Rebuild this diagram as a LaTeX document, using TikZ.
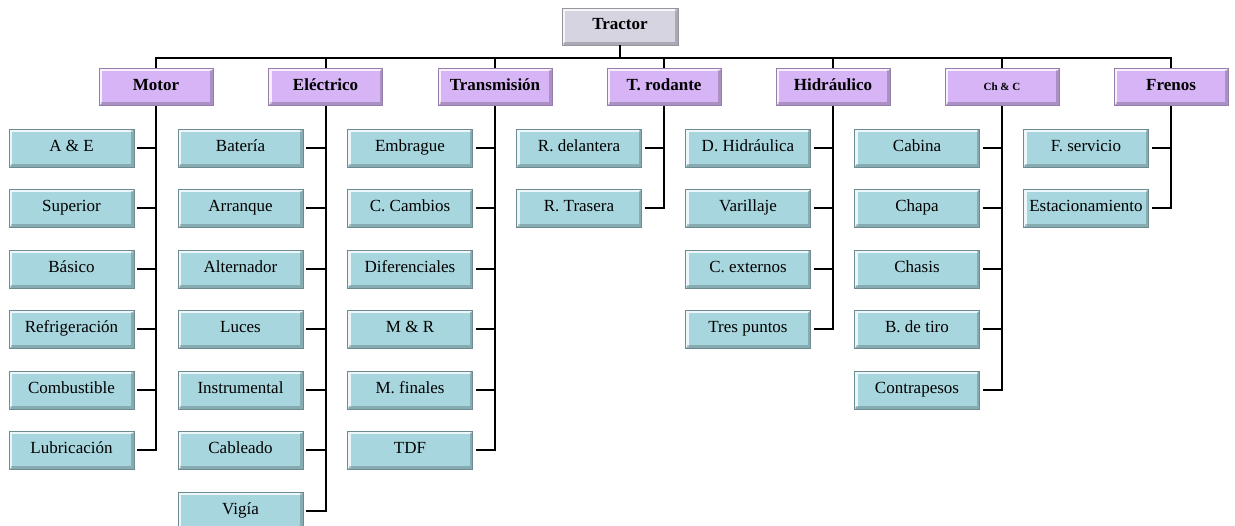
\documentclass[tikz,border=0pt]{standalone}
\usepackage{xcolor}
\usepackage{fontspec}
\setmainfont{Liberation Serif}
\usepackage{tikz}
\usetikzlibrary{positioning}
\definecolor{rootgray}{RGB}{214, 212, 224}
\definecolor{groupviolet}{RGB}{214, 180, 246}
\definecolor{leafcyan}{RGB}{168, 214, 222}

\tikzset{
  bevel/.style={path picture={
    \draw[white, line width=3pt, opacity=.8]
      ([shift={(1.5pt,1.5pt)}]path picture bounding box.south west) |- ([shift={(-1.5pt,-1.5pt)}]path picture bounding box.north east);
    \draw[black, line width=3pt, opacity=.2]
      ([shift={(1.5pt,1.5pt)}]path picture bounding box.south west) -| ([shift={(-1.5pt,-1.5pt)}]path picture bounding box.north east);
  }},
  rootbox/.style={rectangle, bevel, fill=rootgray, draw=rootgray!70!black, line width=.5pt, minimum width=116pt, minimum height=37pt, inner sep=0pt, text height=12pt, text depth=5pt, font=\fontsize{17}{20}\selectfont\bfseries},
  groupbox/.style={rectangle, bevel, fill=groupviolet, draw=groupviolet!70!black, line width=.5pt, minimum width=114pt, minimum height=37pt, inner sep=0pt, text height=12pt, text depth=5pt, font=\fontsize{17}{20}\selectfont\bfseries},
  leafbox/.style={rectangle, bevel, fill=leafcyan, draw=leafcyan!65!black, line width=.5pt, minimum width=125pt, minimum height=38pt, inner sep=0pt, text height=12pt, text depth=5pt, font=\fontsize{17}{20}\selectfont},
  link/.style={draw, line width=2pt},
  branch/.style={draw, line width=2pt, shorten <=3pt}
}

\begin{document}
\begin{tikzpicture}[x=1pt, y=-1pt, node distance=22pt]
  \useasboundingbox (0,0) rectangle (1235,526);

  % top
  \node[rootbox] (tractor) at (620,26.5) {Tractor};

  % groups
  \node[groupbox] (motor) at (156,87) {Motor};
  \node[groupbox] (electrico) at (325.5,87) {Eléctrico};
  \node[groupbox] (transmision) at (495,87) {Transmisión};
  \node[groupbox] (rodante) at (664,87) {T. rodante};
  \node[groupbox] (hidraulico) at (833,87) {Hidráulico};
  \node[groupbox, font=\fontsize{11}{13}\selectfont\bfseries] (chc) at (1002,87) {Ch \& C};
  \node[groupbox] (frenos) at (1171,87) {Frenos};

  \foreach \g in {motor, electrico, transmision, rodante, hidraulico, chc, frenos}
    \draw[link] (tractor.south) -- ++(0,13) -| (\g.north);

  % Motor
  \node[leafbox] (ae) at (71.5,148) {A \& E};
  \node[leafbox, below=of ae] (superior) {Superior};
  \node[leafbox, below=of superior] (basico) {Básico};
  \node[leafbox, below=of basico] (refrigeracion) {Refrigeración};
  \node[leafbox, below=of refrigeracion] (combustible) {Combustible};
  \node[leafbox, below=of combustible] (lubricacion) {Lubricación};

  % Electrico
  \node[leafbox] (bateria) at (240.5,148) {Batería};
  \node[leafbox, below=of bateria] (arranque) {Arranque};
  \node[leafbox, below=of arranque] (alternador) {Alternador};
  \node[leafbox, below=of alternador] (luces) {Luces};
  \node[leafbox, below=of luces] (instrumental) {Instrumental};
  \node[leafbox, below=of instrumental] (cableado) {Cableado};
  \node[leafbox, below=of cableado] (vigia) {Vigía};

  % Transmision
  \node[leafbox] (embrague) at (410,148) {Embrague};
  \node[leafbox, below=of embrague] (cambios) {C. Cambios};
  \node[leafbox, below=of cambios] (diferenciales) {Diferenciales};
  \node[leafbox, below=of diferenciales] (mr) {M \& R};
  \node[leafbox, below=of mr] (finales) {M. finales};
  \node[leafbox, below=of finales] (tdf) {TDF};

  % T. rodante
  \node[leafbox] (delantera) at (579,148) {R. delantera};
  \node[leafbox, below=of delantera] (trasera) {R. Trasera};

  % Hidraulico
  \node[leafbox] (dhidraulica) at (748,148) {D. Hidráulica};
  \node[leafbox, below=of dhidraulica] (varillaje) {Varillaje};
  \node[leafbox, below=of varillaje] (externos) {C. externos};
  \node[leafbox, below=of externos] (trespuntos) {Tres puntos};

  % Ch & C
  \node[leafbox] (cabina) at (917,148) {Cabina};
  \node[leafbox, below=of cabina] (chapa) {Chapa};
  \node[leafbox, below=of chapa] (chasis) {Chasis};
  \node[leafbox, below=of chasis] (tiro) {B. de tiro};
  \node[leafbox, below=of tiro] (contrapesos) {Contrapesos};

  % Frenos
  \node[leafbox] (servicio) at (1086,148) {F. servicio};
  \node[leafbox, below=of servicio] (estacionamiento) {Estacionamiento};

  % branches
  \foreach \c in {ae, superior, basico, refrigeracion, combustible, lubricacion}
    \draw[branch] (\c.east) -| (motor.south);
  \foreach \c in {bateria, arranque, alternador, luces, instrumental, cableado, vigia}
    \draw[branch] (\c.east) -| (electrico.south);
  \foreach \c in {embrague, cambios, diferenciales, mr, finales, tdf}
    \draw[branch] (\c.east) -| (transmision.south);
  \foreach \c in {delantera, trasera}
    \draw[branch] (\c.east) -| (rodante.south);
  \foreach \c in {dhidraulica, varillaje, externos, trespuntos}
    \draw[branch] (\c.east) -| (hidraulico.south);
  \foreach \c in {cabina, chapa, chasis, tiro, contrapesos}
    \draw[branch] (\c.east) -| (chc.south);
  \foreach \c in {servicio, estacionamiento}
    \draw[branch] (\c.east) -| (frenos.south);
\end{tikzpicture}
\end{document}
